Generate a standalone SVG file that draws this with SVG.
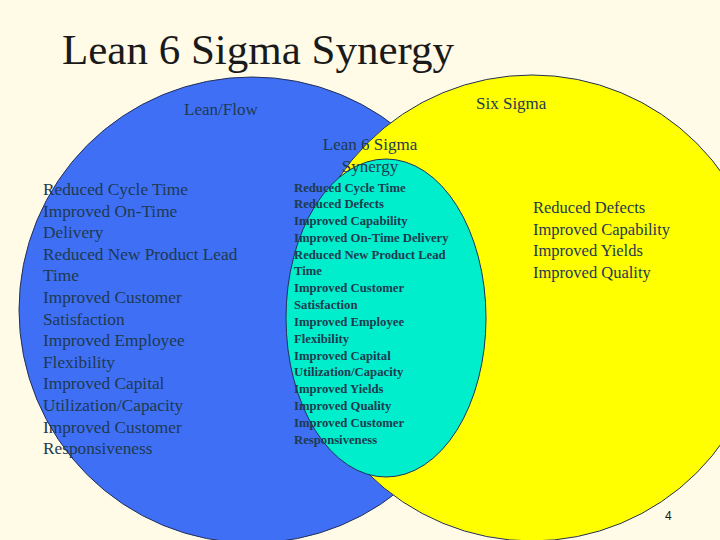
<svg xmlns="http://www.w3.org/2000/svg" width="720" height="540" viewBox="0 0 720 540">
<style>
.t{font-family:'Liberation Serif',serif;fill:#1e3a50}
.l{font-size:17px}
.r{font-size:16.5px}
.b{font-size:12.7px;font-weight:bold}
</style>
<rect width="720" height="540" fill="#fffbe6"/>
<g id="lean"><circle cx="252" cy="310" r="233" fill="#3f6ff5" stroke="#23305a" stroke-width="1"/></g>
<g id="sixsigma"><circle cx="532" cy="308" r="233" fill="#ffff00" stroke="#23305a" stroke-width="1"/></g>
<g id="synergy"><ellipse cx="386" cy="318" rx="100" ry="159" fill="#00eecc" stroke="#23305a" stroke-width="1"/></g>
<g class="t" font-family="Liberation Serif, serif">
<text x="62" y="64" font-size="43" style="fill:#1a1a1a">Lean 6 Sigma Synergy</text>
<text x="184" y="115" class="l">Lean/Flow</text>
<text x="476" y="109" class="l">Six Sigma</text>
<text x="370" y="150" class="l" text-anchor="middle">Lean 6 Sigma</text>
<text x="370" y="172" class="l" text-anchor="middle">Synergy</text>
<g style="font-size:17.3px">
<text x="43" y="195">Reduced Cycle Time</text>
<text x="43" y="217">Improved On-Time</text>
<text x="43" y="238">Delivery</text>
<text x="43" y="260">Reduced New Product Lead</text>
<text x="43" y="281">Time</text>
<text x="43" y="303">Improved Customer</text>
<text x="43" y="325">Satisfaction</text>
<text x="43" y="346">Improved Employee</text>
<text x="43" y="368">Flexibility</text>
<text x="43" y="389">Improved Capital</text>
<text x="43" y="411">Utilization/Capacity</text>
<text x="43" y="433">Improved Customer</text>
<text x="43" y="454">Responsiveness</text>
</g>
<text x="533" y="213" class="r">Reduced Defects</text>
<text x="533" y="235" class="r">Improved Capability</text>
<text x="533" y="256" class="r">Improved Yields</text>
<text x="533" y="278" class="r">Improved Quality</text>
<text x="294" y="192" class="b">Reduced Cycle Time</text>
<text x="294" y="208" class="b">Reduced Defects</text>
<text x="294" y="225" class="b">Improved Capability</text>
<text x="294" y="242" class="b">Improved On-Time Delivery</text>
<text x="294" y="259" class="b">Reduced New Product Lead</text>
<text x="294" y="275" class="b">Time</text>
<text x="294" y="292" class="b">Improved Customer</text>
<text x="294" y="309" class="b">Satisfaction</text>
<text x="294" y="326" class="b">Improved Employee</text>
<text x="294" y="343" class="b">Flexibility</text>
<text x="294" y="360" class="b">Improved Capital</text>
<text x="294" y="376" class="b">Utilization/Capacity</text>
<text x="294" y="393" class="b">Improved Yields</text>
<text x="294" y="410" class="b">Improved Quality</text>
<text x="294" y="427" class="b">Improved Customer</text>
<text x="294" y="444" class="b">Responsiveness</text>
</g>
<text x="665" y="520" font-size="12" font-family="Liberation Sans, sans-serif" fill="#1a1a1a">4</text>
</svg>
